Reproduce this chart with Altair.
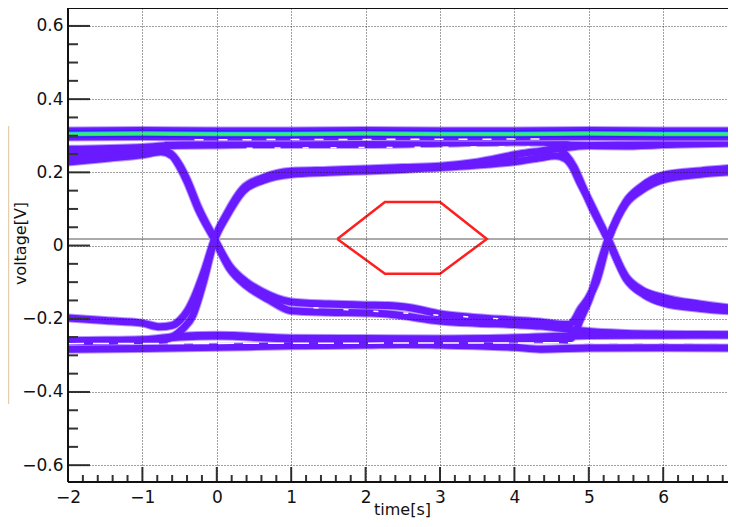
import altair as alt
import pandas as pd

# ---------------- axes ----------------
W, H = 660, 474
X_DOMAIN = [-2, 6.871]
Y_DOMAIN = [-0.646, 0.649]
x_major = [-2, -1, 0, 1, 2, 3, 4, 5, 6]
y_major = [-0.6, -0.4, -0.2, 0, 0.2, 0.4, 0.6]
x_minor = [round(-2 + 0.2 * i, 2) for i in range(45) if i % 5 != 0]
y_minor = [round(-0.6 + 0.05 * i, 3) for i in range(25) if i % 4 != 0]

# ---------------- eye-diagram traces ----------------
hi_x = [-2, -1, 0, 1, 2, 3, 4, 5, 6, 7]
hi_y = [0.305, 0.306, 0.305, 0.305, 0.306, 0.305, 0.305, 0.306, 0.305, 0.305]

hisub_x = [-0.7, 0, 1, 2, 3, 4, 4.4, 4.8, 5.5, 6, 6.5, 7]
hisub_y = [0.274, 0.275, 0.277, 0.277, 0.28, 0.284, 0.286, 0.274, 0.272, 0.276, 0.284, 0.288]

lo1_x = [-2, -1, -0.5, 0, 1, 2, 3, 4, 5, 6, 7]
lo1_y = [-0.261, -0.258, -0.248, -0.245, -0.253, -0.254, -0.255, -0.252, -0.246, -0.245, -0.244]

lo2_x = [-2, -1, 0, 1, 2, 2.5, 3, 4, 4.35, 5, 6, 7]
lo2_y = [-0.283, -0.281, -0.278, -0.274, -0.272, -0.27, -0.272, -0.278, -0.283, -0.28, -0.279, -0.28]

# high -> low -> high
p1_x = [-2, -1.5, -1, -0.75, -0.6, -0.5, -0.4, -0.25, -0.03, 0.17, 0.4, 0.6, 1.0, 1.5, 2.0,
        2.3, 2.6, 3.0, 3.5, 4.0, 4.35, 4.6, 4.72, 4.8, 4.88, 4.99, 5.1, 5.26, 5.38, 5.5, 5.7,
        6.0, 6.5, 7.0]
p1_y = [0.228, 0.238, 0.248, 0.256, 0.245, 0.215, 0.175, 0.1, 0.017, -0.055, -0.1, -0.125,
        -0.154, -0.16, -0.163, -0.164, -0.17, -0.187, -0.197, -0.204, -0.209, -0.215, -0.216,
        -0.205, -0.176, -0.145, -0.1, 0.015, 0.075, 0.12, 0.16, 0.192, 0.204, 0.212]

# low -> high -> low
p2_x = [-2, -1.5, -1, -0.77, -0.6, -0.5, -0.4, -0.3, -0.17, -0.03, 0.13, 0.35, 0.62, 1.0, 1.5,
        2.0, 2.5, 3.0, 3.5, 4.07, 4.35, 4.55, 4.68, 4.78, 4.88, 5.0, 5.26, 5.5, 5.7, 6.0, 6.5,
        7.0]
p2_y = [-0.198, -0.205, -0.212, -0.222, -0.218, -0.205, -0.18, -0.14, -0.07, 0.017, 0.08,
        0.148, 0.178, 0.195, 0.2, 0.204, 0.208, 0.213, 0.22, 0.231, 0.24, 0.245, 0.238, 0.215,
        0.172, 0.125, 0.015, -0.085, -0.12, -0.142, -0.16, -0.173]

# high -> low -> low
p3_x = [-2, -1.5, -1, -0.8, -0.65, -0.5, -0.4, -0.25, -0.03, 0.17, 0.4, 0.7, 1.0, 1.5, 2.0,
        2.3, 2.5, 3.0, 3.5, 4.0, 4.35, 4.7, 5.0, 5.5, 6, 6.5, 7]
p3_y = [0.245, 0.25, 0.258, 0.262, 0.255, 0.22, 0.18, 0.105, 0.017, -0.062, -0.11, -0.148,
        -0.178, -0.182, -0.184, -0.187, -0.192, -0.206, -0.212, -0.216, -0.22, -0.228,
        -0.235, -0.24, -0.242, -0.243, -0.244]

# low -> high -> high
p4_x = [-2, -1.5, -1, -0.75, -0.6, -0.46, -0.32, -0.18, -0.03, 0.13, 0.35, 0.62, 1.0, 1.5,
        2.0, 2.5, 3.0, 3.5, 4.07, 4.35, 4.7, 5.0, 5.5, 6, 6.5, 7]
p4_y = [-0.26, -0.259, -0.258, -0.258, -0.25, -0.228, -0.19, -0.1, 0.017, 0.085, 0.155, 0.185,
        0.203, 0.206, 0.209, 0.213, 0.217, 0.228, 0.25, 0.258, 0.268, 0.273, 0.275, 0.276,
        0.278, 0.28]

# high -> high -> low
p5_x = [-2, -1, -0.5, 0, 1, 2, 3, 4, 4.4, 4.55, 4.68, 4.8, 4.92, 5.05, 5.26, 5.5, 5.75, 6.0,
        6.5, 7.0]
p5_y = [0.263, 0.268, 0.275, 0.276, 0.277, 0.277, 0.28, 0.283, 0.282, 0.272, 0.25, 0.215,
        0.16, 0.1, 0.017, -0.09, -0.135, -0.157, -0.172, -0.18]

# low -> low -> high
p6_x = [-2, -1, -0.5, 0, 1, 2, 3, 4, 4.5, 4.7, 4.8, 4.88, 5.0, 5.26, 5.5, 5.7, 6.0, 6.5, 7.0]
p6_y = [-0.262, -0.259, -0.25, -0.247, -0.255, -0.256, -0.256, -0.255, -0.256, -0.258, -0.245,
        -0.205, -0.15, 0.017, 0.115, 0.15, 0.18, 0.195, 0.202]

# white gaps inside the bands
gap1_x = [-0.3, 4.4]
gap1_y = [0.289, 0.291]
gap2_x = [0.4, 4.2]
gap2_y = [0.266, 0.27]
gap3_x = [-2, 7]
gap3_y = [-0.268, -0.265]
gap4_x = [1.3, 3.8]
gap4_y = [-0.17, -0.2]

# eye mask and threshold
mask_x = [1.62, 2.26, 3.0, 3.63, 3.0, 2.26, 1.62]
mask_y = [0.018, 0.119, 0.119, 0.018, -0.077, -0.077, 0.018]
threshold = [0.018]

# ---------------- build tables ----------------
traces = {
    "hisub": (hisub_x, hisub_y), "lo1": (lo1_x, lo1_y), "lo2": (lo2_x, lo2_y),
    "p1": (p1_x, p1_y), "p2": (p2_x, p2_y), "p3": (p3_x, p3_y),
    "p4": (p4_x, p4_y), "p5": (p5_x, p5_y), "p6": (p6_x, p6_y),
}
rows = []
for name, (xs, ys) in traces.items():
    for i, (a, b) in enumerate(zip(xs, ys)):
        rows.append({"trace": name, "i": i, "x": a, "y": b})
df_tr = pd.DataFrame(rows)
df_hi = pd.DataFrame({"x": hi_x, "y": hi_y})

FONT = "DejaVu Sans"
GRID = dict(grid=True, gridDash=[1, 2], gridColor="#111", gridOpacity=0.8, gridWidth=1,
            ticks=False, tickSize=0, domain=False, labelFont=FONT, labelFontSize=17,
            labelColor="#111", labelFlush=False, labelOverlap=False, titleFont=FONT,
            titleFontSize=16, titleFontWeight="normal", titleColor="#111",
            titleBaseline="alphabetic", zindex=1)
x_enc = alt.X("x:Q", scale=alt.Scale(domain=X_DOMAIN, nice=False, zero=False),
              axis=alt.Axis(values=x_major, labelPadding=7, title="time[s]",
                            titleX=334, titleY=32, **GRID))
y_enc = alt.Y("y:Q", scale=alt.Scale(domain=Y_DOMAIN, nice=False, zero=False),
              axis=alt.Axis(values=y_major, format="~g", labelPadding=5,
                            title="voltage[V]", titleAngle=-90, titleX=-43, titleY=235,
                            **GRID))

PURPLE = "#6a1aff"
FRINGE = "#b596ff"

thr = alt.Chart(pd.DataFrame({"y": threshold})).mark_rule(
    color="#aaaaaa", strokeWidth=2).encode(y=y_enc)

fringe = alt.Chart(df_tr).mark_line(interpolate="monotone", strokeWidth=9, color=FRINGE,
                                    clip=True).encode(x=x_enc, y=y_enc, detail="trace:N",
                                                      order="i:Q")
core = alt.Chart(df_tr).mark_line(interpolate="monotone", strokeWidth=7, color=PURPLE,
                                  clip=True).encode(x=x_enc, y=y_enc, detail="trace:N",
                                                    order="i:Q")

band_layers = []
for col, wdt in [(FRINGE, 15), (PURPLE, 13), ("#3c1cff", 8), ("#1ec4f2", 4.5), ("#36f060", 2.5)]:
    band_layers.append(alt.Chart(df_hi).mark_line(interpolate="monotone", strokeWidth=wdt,
                                                  color=col, clip=True)
                       .encode(x=x_enc, y=y_enc))

gap_layers = []
for gx, gy, dash in [(gap1_x, gap1_y, [9, 15]), (gap2_x, gap2_y, [6, 22]),
                     (gap3_x, gap3_y, [16, 9]), (gap4_x, gap4_y, [5, 25])]:
    gap_layers.append(alt.Chart(pd.DataFrame({"x": gx, "y": gy})).mark_line(
        color="white", strokeWidth=1.5, strokeDash=dash, clip=True).encode(x=x_enc, y=y_enc))

mask = alt.Chart(pd.DataFrame({"x": mask_x, "y": mask_y, "i": list(range(len(mask_x)))})
                 ).mark_line(color="#ff1f1f", strokeWidth=2.5).encode(
    x=x_enc, y=y_enc, order="i:Q")

TICK = "#333"
ytick_major = alt.Chart(pd.DataFrame({"y": y_major})).mark_rule(
    color=TICK, strokeWidth=2).encode(y=y_enc, x=alt.value(0), x2=alt.value(22))
ytick_minor = alt.Chart(pd.DataFrame({"y": y_minor})).mark_rule(
    color=TICK, strokeWidth=2).encode(y=y_enc, x=alt.value(0), x2=alt.value(10))
xtick_major = alt.Chart(pd.DataFrame({"x": x_major})).mark_rule(
    color=TICK, strokeWidth=2).encode(x=x_enc, y=alt.value(H), y2=alt.value(H - 15))
xtick_minor = alt.Chart(pd.DataFrame({"x": x_minor})).mark_rule(
    color=TICK, strokeWidth=2, clip=True).encode(x=x_enc, y=alt.value(H), y2=alt.value(H - 7))

one = pd.DataFrame({"a": [0]})
frame_l = alt.Chart(one).mark_rule(color="#111", strokeWidth=2).encode(
    x=alt.value(0), y=alt.value(0), y2=alt.value(H))
frame_t = alt.Chart(one).mark_rule(color="#111", strokeWidth=2).encode(
    x=alt.value(0), x2=alt.value(W), y=alt.value(0))
frame_b = alt.Chart(one).mark_rule(color="#111", strokeWidth=2).encode(
    x=alt.value(0), x2=alt.value(W), y=alt.value(H))
stray_box = alt.Chart(one).mark_rule(color="#e3cfae", strokeWidth=1.5).encode(
    x=alt.value(-59.5), y=alt.value(118), y2=alt.value(396))

chart = alt.layer(
    thr, fringe, core, *band_layers, *gap_layers, mask,
    ytick_major, ytick_minor, xtick_major, xtick_minor,
    frame_l, frame_t, frame_b, stray_box,
).properties(
    width=W, height=H,
    autosize=alt.AutoSizeParams(type="none"),
    padding={"left": 60, "top": 0, "right": 0, "bottom": 37},
    background="white",
).configure_view(stroke=None)

chart.save("out.html", embed_options={"renderer": "svg", "actions": False})
